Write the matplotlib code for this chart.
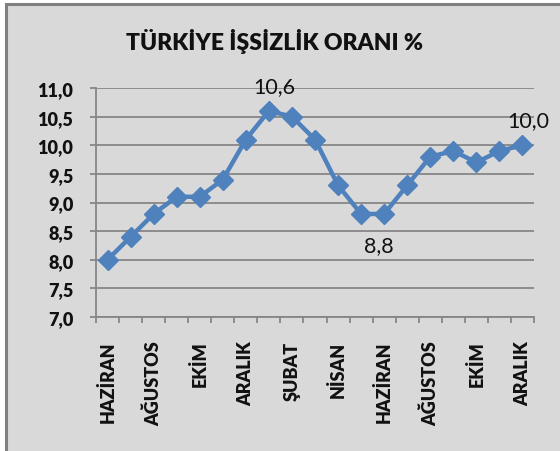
import matplotlib.pyplot as plt
from matplotlib.patches import Rectangle

# Veriler
months = ["HAZİRAN", "TEMMUZ", "AĞUSTOS", "EYLÜL", "EKİM", "KASIM", "ARALIK",
          "OCAK", "ŞUBAT", "MART", "NİSAN", "MAYIS", "HAZİRAN", "TEMMUZ",
          "AĞUSTOS", "EYLÜL", "EKİM", "KASIM", "ARALIK"]
rates = [8.0, 8.4, 8.8, 9.1, 9.1, 9.4, 10.1, 10.6, 10.5, 10.1, 9.3, 8.8,
         8.8, 9.3, 9.8, 9.9, 9.7, 9.9, 10.0]
y_ticks = [7.0, 7.5, 8.0, 8.5, 9.0, 9.5, 10.0, 10.5, 11.0]
labelled = {7: "above", 12: "below", 18: "above"}

bg = '#D9D9D9'
grid_c = '#868686'
line_c = '#4F81BD'
plt.rcParams['font.family'] = ['Lato', 'DejaVu Sans']

fig = plt.figure(figsize=(5.6, 4.52), dpi=100)
fig.patch.set_facecolor('white')
fig.patches.append(Rectangle((5.5 / 560, -0.05), 1.1, 1.05 - 4.5 / 452,
                             transform=fig.transFigure, facecolor=bg,
                             edgecolor='#808080', linewidth=2.2, zorder=-10))

ax = fig.add_axes([96 / 560, 134 / 452, 438 / 560, 229 / 452])
ax.set_facecolor(bg)
ax.patch.set_alpha(0)

x = list(range(len(rates)))
ax.plot(x, rates, color=line_c, linewidth=3.2, marker='D', markersize=10.5,
        markerfacecolor=line_c, markeredgecolor=line_c, zorder=3, clip_on=False)

for i, pos in labelled.items():
    txt = f"{rates[i]:.1f}".replace('.', ',')
    if pos == "above":
        ax.annotate(txt, (x[i], rates[i]), xytext=(4, 11), textcoords='offset points',
                    ha='center', va='bottom', fontsize=15.5, color='#111111')
    else:
        ax.annotate(txt, (x[i], rates[i]), xytext=(-4, -15), textcoords='offset points',
                    ha='center', va='top', fontsize=15.5, color='#111111')

ax.set_xlim(-0.5, len(rates) - 0.5)
ax.set_ylim(7.0, 11.0)
ax.set_yticks(y_ticks)
ax.set_yticklabels([f"{v:.1f}".replace('.', ',') for v in y_ticks],
                   fontsize=13, fontweight='heavy', color='#111111')
ax.yaxis.grid(True, color=grid_c, linewidth=1.3)
ax.set_axisbelow(True)

# etiketler çift sıralı aylarda, çentikler kategori sınırlarında
ax.set_xticks(x[::2])
ax.set_xticklabels(months[::2], rotation=90, fontsize=13, fontweight='heavy',
                   color='#111111')
ax.set_xticks([i - 0.5 for i in range(len(rates) + 1)], minor=True)
ax.tick_params(axis='x', which='major', length=0, pad=17)
ax.tick_params(axis='x', which='minor', length=4.3, width=1.3, color=grid_c)
ax.tick_params(axis='y', length=4.3, width=1.3, color=grid_c, pad=12)

for s in ['top', 'right']:
    ax.spines[s].set_visible(False)
for s in ['left', 'bottom']:
    ax.spines[s].set_color(grid_c)
    ax.spines[s].set_linewidth(1.3)

fig.text(275 / 560, 1 - 42 / 452, "TÜRKİYE İŞSİZLİK ORANI %", ha='center', va='center',
         fontsize=16.5, fontweight='heavy', color='#111111')

fig.savefig('out.png', dpi=100, facecolor=fig.get_facecolor())
